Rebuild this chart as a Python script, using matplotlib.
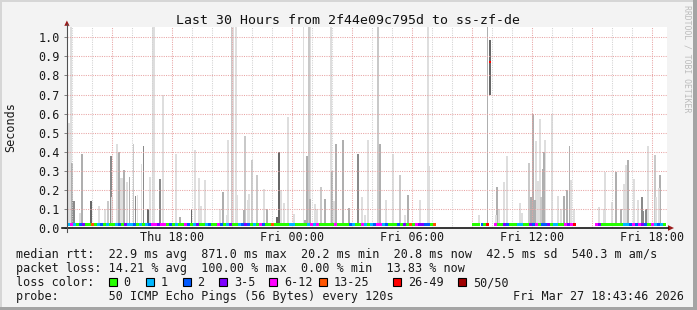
import matplotlib
matplotlib.use('Agg')
import matplotlib.pyplot as plt
from matplotlib.patches import Rectangle, Polygon
from matplotlib.lines import Line2D
import matplotlib.transforms as mtransforms
import numpy as np

# ---------------- data (hours since Thu 00:00, seconds) ----------------
T_START = 12.73          # Thu 12:44
T_SPAN = 30.0
tick_hours = [18, 24, 30, 36, 42]
tick_labels = ["Thu 18:00", "Fri 00:00", "Fri 06:00", "Fri 12:00", "Fri 18:00"]
y_ticks = [0.0, 0.1, 0.2, 0.3, 0.4, 0.5, 0.6, 0.7, 0.8, 0.9, 1.0]

median_rtt = 0.017

# data segments: start hour, end hour, loss class per time step
seg_start = [12.73, 32.98, 34.08, 39.13]
seg_end = [31.18, 33.83, 38.18, 42.68]
seg_loss = [
    "16102300o0120100120311201012663660"
    "201006201300120062013001232010620"
    "0o0000011000016160000060000210061"
    "01266120002030o0633220o",
    "00020r",
    "600320001100326022301100636r",
    "63000000011262632061210",
]

# isolated high-latency step
spike_col_time = 33.88
spike_col_low = 0.70
spike_col_high = 0.985
spike_col_median = 0.87
spike_col_loss = "r"

# smoke: time, top value, shade class
smoke_time = [
    12.73, 12.83, 12.88, 12.93, 12.98, 13.03, 13.08, 13.38, 13.48, 13.93,
    14.33, 14.63, 14.78, 14.93, 14.98, 15.23, 15.33, 15.43, 15.48, 15.58,
    15.73, 15.855, 16.055, 16.155, 16.255, 16.455, 16.555, 16.78, 16.88, 17.03,
    17.08, 17.38, 17.53, 18.18, 18.38, 18.955, 19.13, 19.33, 19.43, 19.63,
    20.38, 20.53, 20.73, 20.78, 20.955, 21.03, 21.18, 21.23, 21.58, 21.63,
    21.78, 21.83, 21.98, 22.23, 22.58, 22.73, 23.23, 23.33, 23.43, 23.58,
    23.78, 24.08, 24.555, 24.63, 24.73, 24.83, 24.905, 24.88, 25.13, 25.23,
    25.43, 25.63, 25.93, 25.98, 26.08, 26.18, 26.53, 26.83, 27.28, 27.48,
    27.63, 27.78, 28.28, 28.38, 28.68, 29.03, 29.38, 29.63, 29.78, 30.38,
    30.78, 30.855, 33.33, 33.755, 34.18, 34.23, 34.33, 34.58, 34.73, 35.38,
    35.48, 35.83, 35.93, 36.03, 36.13, 36.18, 36.28, 36.38, 36.43, 36.53,
    36.58, 36.63, 36.98, 37.28, 37.43, 37.58, 37.73, 37.855, 37.93, 38.08,
    39.33, 39.58, 39.63, 39.98, 40.18, 40.43, 40.58, 40.68, 40.78, 41.08,
    41.28, 41.48, 41.53, 41.68, 41.78, 42.13, 42.18, 42.33, 42.38,
]
smoke_top = [
    0.105, 0.55, 0.55, 1.06, 0.34, 0.14, 0.14, 0.08, 0.39, 0.14,
    0.115, 0.10, 0.14, 0.375, 0.16, 0.44, 0.40, 0.26, 0.26, 0.305,
    0.24, 0.27, 0.44, 0.17, 0.175, 0.335, 0.43, 0.10, 0.265, 1.06,
    1.06, 0.255, 0.70, 0.39, 0.06, 0.10, 0.41, 0.26, 0.115, 0.25,
    0.10, 0.19, 0.07, 0.46, 1.06, 1.06, 1.06, 0.175, 0.095, 0.48,
    0.145, 0.18, 0.355, 0.28, 0.205, 0.10, 0.06, 0.40, 0.20, 0.13,
    0.58, 0.075, 1.06, 0.04, 0.375, 1.06, 1.06, 0.15, 0.125, 0.10,
    0.215, 0.15, 1.06, 0.30, 0.14, 0.44, 0.46, 0.105, 0.39, 0.16,
    0.07, 0.46, 1.06, 0.44, 0.145, 0.39, 0.28, 0.07, 0.175, 0.145,
    1.06, 0.325, 0.07, 1.06, 0.07, 0.215, 0.10, 0.24, 0.375, 0.13,
    0.08, 0.34, 0.16, 0.60, 0.145, 0.455, 0.245, 0.57, 0.16, 0.31,
    0.40, 0.46, 0.60, 0.17, 0.10, 0.17, 0.20, 0.43, 0.25, 0.10,
    0.11, 0.10, 0.295, 0.135, 0.295, 0.10, 0.23, 0.33, 0.355, 0.255,
    0.145, 0.165, 0.09, 0.10, 0.43, 0.385, 0.16, 0.21, 0.28,
]
smoke_shade = (
    "LLLLGDDLGK"
    "LLMDLLGLLG"
    "LGMDLLDKLL"
    "LDLLGKLLLL"
    "LGLLMLLLGM"
    "LLMMLGKKLL"
    "LLLGGMLGLL"
    "MGLGLGGGDL"
    "LLMGLLMLGL"
    "LLLGLGLLLL"
    "LMGGGLLLMG"
    "GLLLLGGGLL"
    "LLLLGGLLGL"
    "LDDDLMLLG"
)

loss_labels = ["0", "1", "2", "3-5", "6-12", "13-25", "26-49", "50/50"]
loss_codes = ["0", "1", "2", "3", "6", "o", "r", "d"]
loss_colors = ["#26ff00", "#00b8ff", "#0059ff", "#7e00ff", "#ff00ff",
               "#ff5500", "#ff0000", "#a00000"]
shade_codes = {"L": "#dedede", "M": "#c9c9c9", "G": "#afafaf",
               "D": "#8a8a8a", "K": "#676767"}

title = "Last 30 Hours from 2f44e09c795d to ss-zf-de"
legend_lines = [
    "median rtt:  22.9 ms avg  871.0 ms max  20.2 ms min  20.8 ms now  42.5 ms sd  540.3 m am/s",
    "packet loss: 14.21 % avg  100.00 % max  0.00 % min  13.83 % now",
    "loss color:",
    "probe:       50 ICMP Echo Pings (56 Bytes) every 120s",
]
stamp = "Fri Mar 27 18:43:46 2026"

# ---------------- figure ----------------
W, H = 697, 310
MONO = "DejaVu Sans Mono"
fig = plt.figure(figsize=(W / 100, H / 100), dpi=100)
fig.patch.set_facecolor("#f3f3f3")


def fx(x):
    return x / W


def fy(y):
    return 1 - y / H


# 3D-ish border
fig.add_artist(Rectangle((0, fy(2.3)), 1, 2.3 / H, transform=fig.transFigure,
                         fc="#d6d6d6", ec="none"))
fig.add_artist(Rectangle((0, 0), 2 / W, 1, transform=fig.transFigure,
                         fc="#d6d6d6", ec="none"))
fig.add_artist(Rectangle((0, 0), 1, 3.3 / H, transform=fig.transFigure,
                         fc="#a4a4a4", ec="none"))
fig.add_artist(Rectangle((fx(W - 3.7), 0), 3.7 / W, 1, transform=fig.transFigure,
                         fc="#a4a4a4", ec="none"))

X0, X1, Y0, Y1 = 67, 667, 27, 228
YMAX = 1.054
ax = fig.add_axes([fx(X0), fy(Y1), (X1 - X0) / W, (Y1 - Y0) / H])
ax.set_facecolor("white")
ax.set_xlim(T_START, T_START + T_SPAN)
ax.set_ylim(0, YMAX)
for s in ax.spines.values():
    s.set_visible(False)

# grid
dot = (0, (1, 1.2))
for h in range(13, 43):
    if h % 3 == 0:
        ax.axvline(h, color="#e8a4a4", lw=0.75, ls=dot, zorder=3)
    else:
        ax.axvline(h, color="#d2d2d2", lw=0.75, ls=dot, zorder=3)
for v in y_ticks[1:]:
    ax.axhline(v, color="#e8a4a4", lw=0.75, ls=dot, zorder=3)

# smoke
order = np.argsort(-np.array(smoke_top))
st = np.array(smoke_time)[order]
sv = np.array(smoke_top)[order]
sc = [shade_codes[smoke_shade[i]] for i in order]
ax.bar(st, sv - median_rtt, bottom=median_rtt, width=0.085, color=sc,
       linewidth=0, zorder=2)
ax.bar([spike_col_time], [spike_col_high - spike_col_low], bottom=spike_col_low,
       width=0.055, color=shade_codes["K"], linewidth=0, zorder=2)

# median line coloured by loss
cmap = dict(zip(loss_codes, loss_colors))
thick = 2.8 * YMAX / (Y1 - Y0)
for t0, t1, s in zip(seg_start, seg_end, seg_loss):
    step = (t1 - t0) / len(s)
    for i, ch in enumerate(s):
        ax.add_patch(Rectangle((t0 + i * step, median_rtt - thick / 2), step,
                               thick, fc=cmap[ch], ec="none", zorder=4))
ax.add_patch(Rectangle((spike_col_time - 0.03, spike_col_median - thick / 2),
                       0.06, thick, fc=cmap[spike_col_loss], ec="none",
                       zorder=4))

ax.set_xticks([])
ax.set_yticks(y_ticks)
ax.set_yticklabels([f"{v:.1f}" for v in y_ticks], fontfamily=MONO,
                   fontsize=8.5, color="#1a1a1a")
ax.tick_params(axis="y", length=2.4, width=0.7, color="#808080", pad=2.9)

# x tick labels
trans = mtransforms.blended_transform_factory(ax.transData, fig.transFigure)
for h, lab in zip(tick_hours, tick_labels):
    ax.text(h, fy(241), lab, transform=trans, ha="center", va="baseline",
            fontfamily=MONO, fontsize=8.5, color="#1a1a1a", clip_on=False)

# axes lines and arrows
fig.add_artist(Line2D([fx(62), fx(668)], [fy(228), fy(228)],
                      transform=fig.transFigure, color="black", lw=1.1))
fig.add_artist(Line2D([fx(66.8), fx(66.8)], [fy(232), fy(24)],
                      transform=fig.transFigure, color="#505050", lw=0.8))
arrow_c = "#9a1a1a"
fig.add_artist(Polygon([(fx(64.3), fy(25.8)), (fx(69.5), fy(25.8)),
                        (fx(66.9), fy(20.5))], closed=True,
                       transform=fig.transFigure, fc=arrow_c, ec="none"))
fig.add_artist(Polygon([(fx(668), fy(225.2)), (fx(668), fy(230.8)),
                        (fx(674), fy(228))], closed=True,
                       transform=fig.transFigure, fc=arrow_c, ec="none"))

# texts
fig.text(fx(347.5), fy(24), title, ha="center", va="baseline",
         fontfamily=MONO, fontsize=9.5, color="#111111")
fig.text(fx(11), fy(127.5), "Seconds", rotation=90, ha="center", va="center",
         fontfamily=MONO, fontsize=8.5, color="#1a1a1a")
fig.text(fx(687.5), fy(5), "RRDTOOL / TOBI OETIKER", rotation=270,
         ha="center", va="top", fontfamily=MONO, fontsize=5.9,
         color="#bcbcbc")

baselines = [258, 272, 286, 300]
for yb, line in zip(baselines, legend_lines):
    fig.text(fx(16), fy(yb), line, ha="left", va="baseline",
             fontfamily=MONO, fontsize=8.5, color="#1a1a1a")
fig.text(fx(513), fy(300), stamp, ha="left", va="baseline",
         fontfamily=MONO, fontsize=8.5, color="#1a1a1a")

box_x = [108.7, 145.7, 182.7, 219.3, 269.3, 319.3, 393.3, 458.3]
for bx, lab, col in zip(box_x, loss_labels, loss_colors):
    fig.add_artist(Rectangle((fx(bx), fy(286)), 8 / W, 8 / H,
                             transform=fig.transFigure, fc=col, ec="black",
                             lw=0.8))
    fig.text(fx(bx + 14.6), fy(286), lab, ha="left", va="baseline",
             fontfamily=MONO, fontsize=8.5, color="#1a1a1a")

fig.savefig("out.png", dpi=100, facecolor=fig.get_facecolor())
